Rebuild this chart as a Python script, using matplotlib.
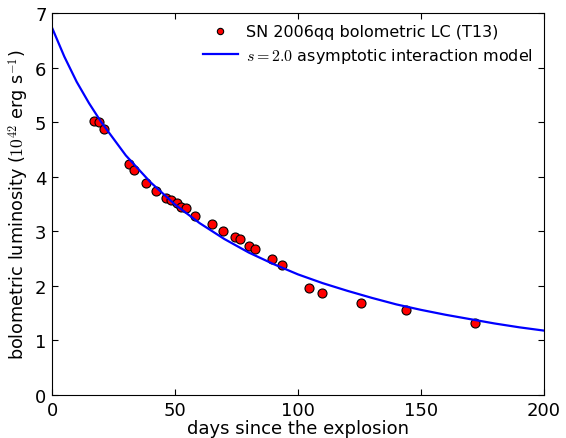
import numpy as np
import matplotlib
matplotlib.use("Agg")
import matplotlib.pyplot as plt

plt.rcParams['mathtext.fontset'] = 'cm'
plt.rcParams['font.family'] = 'DejaVu Sans'

# SN 2006qq bolometric light curve (days, 1e42 erg/s)
obs_days = [17.1, 19.2, 21.3, 31.1, 33.2, 38.2, 42.3, 46.2, 48.2, 50.7, 52.5, 54.4,
            58.3, 65.2, 69.4, 74.5, 76.4, 80.0, 82.5, 89.6, 93.5, 104.6, 109.7,
            125.7, 143.8, 172.0]
obs_lum = [5.03, 5.00, 4.87, 4.24, 4.12, 3.89, 3.74, 3.61, 3.58, 3.52, 3.45, 3.43,
           3.28, 3.14, 3.00, 2.90, 2.86, 2.73, 2.68, 2.50, 2.39, 1.96, 1.87,
           1.68, 1.55, 1.32]

# model curve
model_days = [0, 5, 10, 15, 20, 30, 40, 50, 60, 70, 80, 90, 100, 110, 120, 130,
              140, 150, 160, 170, 180, 190, 200]
model_lum = [6.73, 6.20, 5.74, 5.35, 5.00, 4.39, 3.90, 3.49, 3.15, 2.86, 2.61, 2.40,
             2.21, 2.05, 1.91, 1.78, 1.66, 1.56, 1.47, 1.39, 1.31, 1.24, 1.18]

fig = plt.figure(figsize=(5.66, 4.39), dpi=100)
ax = fig.add_axes([0.092, 0.098, 0.869, 0.870])

ax.plot(obs_days, obs_lum, 'o', color='red', markeredgecolor='black',
        markersize=6.5, markeredgewidth=0.8, label='SN 2006qq bolometric LC (T13)')
ax.plot(model_days, model_lum, '-', color='blue', lw=1.6,
        label='$s=2.0$ asymptotic interaction model')

ax.set_xlim(0, 200)
ax.set_ylim(0, 7)
ax.set_xticks([0, 50, 100, 150, 200])
ax.set_yticks(range(0, 8))
ax.tick_params(direction='in', top=True, right=True, length=4, labelsize=13, pad=4)
ax.set_xlabel('days since the explosion', fontsize=13, labelpad=0)
ax.set_ylabel('bolometric luminosity ($10^{42}$ erg s$^{-1}$)', fontsize=12.7, labelpad=3)

ax.legend(loc='upper right', numpoints=1, frameon=False, fontsize=11.5,
          handlelength=2.2, handletextpad=0.5, markerscale=0.7, borderaxespad=0.3,
          labelspacing=0.4)

fig.savefig('out.png', dpi=100)
